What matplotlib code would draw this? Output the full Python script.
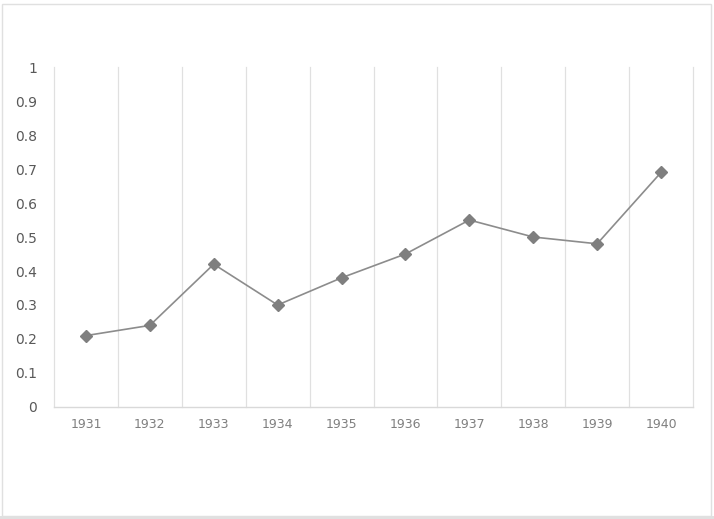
import matplotlib
matplotlib.use("Agg")
import matplotlib.pyplot as plt
from matplotlib.patches import Rectangle
import numpy as np

years = ["1931", "1932", "1933", "1934", "1935", "1936", "1937", "1938", "1939", "1940"]
values = [0.21, 0.24, 0.42, 0.30, 0.38, 0.45, 0.55, 0.50, 0.48, 0.69]
yticks = [0, 0.1, 0.2, 0.3, 0.4, 0.5, 0.6, 0.7, 0.8, 0.9, 1]
ytick_labels = ["0", "0.1", "0.2", "0.3", "0.4", "0.5", "0.6", "0.7", "0.8", "0.9", "1"]

fig = plt.figure(figsize=(7.14, 5.19), dpi=100)
fig.patch.set_facecolor("white")
ax = fig.add_axes([54/714, 1-407/519, (693-54)/714, (407-67)/519])

x = np.arange(len(years))
ax.plot(x, values, color="#8c8c8c", lw=1.2, marker="D", markersize=6,
        markerfacecolor="#7f7f7f", markeredgecolor="#7f7f7f", zorder=3)

ax.set_xlim(-0.5, len(years) - 0.5)
ax.set_ylim(0, 1)
ax.set_yticks(yticks)
ax.set_yticklabels(ytick_labels)
ax.set_xticks(x)
ax.set_xticklabels(years)

# vertical gridlines at category boundaries
for b in np.arange(-0.5, len(years), 1.0):
    ax.axvline(b, color="#e0e0e0", lw=0.9, zorder=1, clip_on=False)

for s in ["top", "left", "right"]:
    ax.spines[s].set_visible(False)
ax.spines["bottom"].set_color("#d9d9d9")
ax.spines["bottom"].set_linewidth(1)

ax.tick_params(axis="y", length=0, colors="#595959", labelsize=10, pad=12)
ax.tick_params(axis="x", length=0, colors="#7f7f7f", labelsize=9, pad=8)

# figure frame
fig.patches.append(Rectangle((2/714, 3/519), 709/714, 512/519, transform=fig.transFigure,
                             fill=False, edgecolor="#e0e0e0", lw=1))
fig.patches.append(Rectangle((0, 0), 1, 3/519, transform=fig.transFigure,
                             facecolor="#e0e0e0", edgecolor="none"))

fig.savefig("out.png", dpi=100, facecolor="white")
